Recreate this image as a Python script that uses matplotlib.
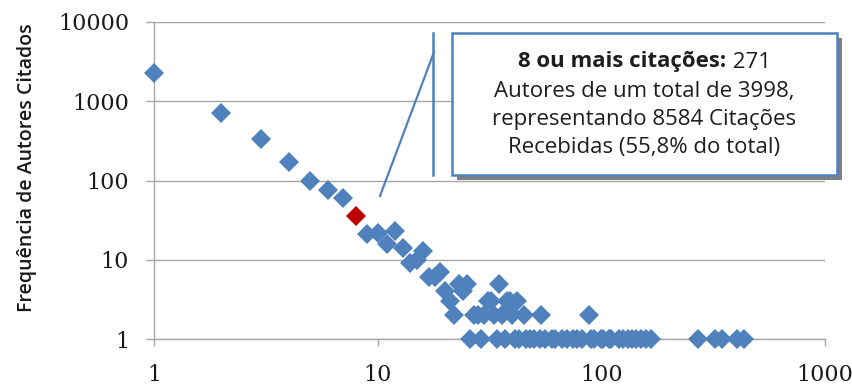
import matplotlib
matplotlib.use("Agg")
import matplotlib.pyplot as plt
from matplotlib.patches import Rectangle
from matplotlib.lines import Line2D

# number of citations received -> number of authors with that count
citations = [1, 2, 3, 4, 5, 6, 7, 8, 9, 10, 11, 12, 13, 14, 15, 16, 17, 18, 19, 20,
             21, 22, 23, 24, 25, 26, 27, 28, 29, 30, 31, 32, 33, 34, 35, 36, 37, 38,
             39, 40, 41, 42, 43, 45, 46, 48, 50, 53, 54, 56, 60, 62, 67, 70, 75, 78,
             82, 88, 90, 93, 100, 102, 108, 111, 120, 125, 131, 137, 143, 150, 158,
             167, 271, 323, 347, 405, 435]
authors = [2300, 715, 335, 172, 99, 76, 60, 36, 21, 22, 16, 23, 14, 9, 10, 13, 6, 6, 7, 4,
           3, 2, 5, 4, 5, 1, 2, 2, 1, 2, 3, 3, 2, 1, 5, 2, 1, 3,
           3, 2, 1, 3, 1, 2, 1, 1, 1, 1, 2, 1, 1, 1, 1, 1, 1, 1,
           1, 2, 1, 1, 1, 1, 1, 1, 1, 1, 1, 1, 1, 1, 1,
           1, 1, 1, 1, 1, 1]
highlight = 8  # threshold point drawn in red

x_ticks = [1, 10, 100, 1000]
y_ticks = [1, 10, 100, 1000, 10000]

ylabel = "Frequência de Autores Citados"
box_bold = "8 ou mais citações:"
box_first = " 271"
box_lines = ["Autores de um total de 3998,",
             "representando 8584 Citações",
             "Recebidas (55,8% do total)"]

BLUE = "#4F81BD"
RED = "#C00000"
GRID = "#A6A6A6"
W, H = 852, 389


def px(x, y):
    return x / W, 1 - y / H


fig = plt.figure(figsize=(W / 100, H / 100), dpi=100)
ax = fig.add_axes([154 / W, 1 - 339 / H, (825 - 154) / W, (339 - 22) / H])

ax.set_xscale("log")
ax.set_yscale("log")
ax.set_xlim(1, 1000)
ax.set_ylim(1, 10000)

blue_x = [c for c in citations if c != highlight]
blue_y = [a for c, a in zip(citations, authors) if c != highlight]
red_y = [a for c, a in zip(citations, authors) if c == highlight]

ax.plot(blue_x, blue_y, "D", color=BLUE, markersize=10.5, markeredgewidth=0,
        clip_on=False, zorder=3)
ax.plot([highlight] * len(red_y), red_y, "D", color=RED, markersize=10.5,
        markeredgewidth=0, clip_on=False, zorder=4)

ax.set_xticks(x_ticks)
ax.set_xticklabels([str(t) for t in x_ticks])
ax.set_yticks(y_ticks)
ax.set_yticklabels([str(t) for t in y_ticks])
ax.minorticks_off()

for lab in ax.get_xticklabels() + ax.get_yticklabels():
    lab.set_fontfamily("DejaVu Serif")
    lab.set_fontsize(16)
    lab.set_color("#1A1A1A")

ax.tick_params(axis="x", direction="out", length=5, width=1, color=GRID, pad=13)
ax.tick_params(axis="y", direction="out", length=6, width=1, color=GRID, pad=12)

ax.grid(True, axis="y", color=GRID, linewidth=1.0)
ax.set_axisbelow(True)
for side in ("top", "right"):
    ax.spines[side].set_visible(False)
for side in ("left", "bottom"):
    ax.spines[side].set_color(GRID)
    ax.spines[side].set_linewidth(1.0)

fig.text(*px(27, 168), ylabel, rotation=90, ha="center", va="center",
         fontsize=14, family="Open Sans", fontweight="semibold", color="#1A1A1A")

# callout lines
fig.add_artist(Line2D(*zip(px(380, 196), px(434, 52)), color=BLUE, lw=1.6,
                      transform=fig.transFigure))
fig.add_artist(Line2D(*zip(px(433, 33), px(433, 175)), color=BLUE, lw=1.8,
                      transform=fig.transFigure))

# text box with shadow
bx0, by0 = px(452, 175)
bw, bh = (837 - 452) / W, (175 - 33) / H
fig.add_artist(Rectangle((bx0 + 5 / W, by0 - 5 / H), bw, bh, transform=fig.transFigure,
                         facecolor="#7F7F7F", edgecolor="none", zorder=5))
fig.add_artist(Rectangle((bx0, by0), bw, bh, transform=fig.transFigure,
                         facecolor="white", edgecolor=BLUE, lw=1.8, zorder=6))

cx = (452 + 837) / 2
text_kw = dict(fontsize=16, family="Open Sans", color="#1E1E1E", zorder=7)
line_y = [62, 91, 120, 148]

t_bold = fig.text(0, 1 - line_y[0] / H, box_bold, ha="left", va="center",
                  fontweight="bold", **text_kw)
t_norm = fig.text(0, 1 - line_y[0] / H, box_first, ha="left", va="center", **text_kw)
fig.canvas.draw()
r = fig.canvas.get_renderer()
wb = t_bold.get_window_extent(r).width
wn = t_norm.get_window_extent(r).width
start = cx - (wb + wn) / 2
t_bold.set_x(start / W)
t_norm.set_x((start + wb) / W)

for s, yy in zip(box_lines, line_y[1:]):
    fig.text(*px(cx, yy), s, ha="center", va="center", **text_kw)

fig.savefig("out.png", dpi=100)
